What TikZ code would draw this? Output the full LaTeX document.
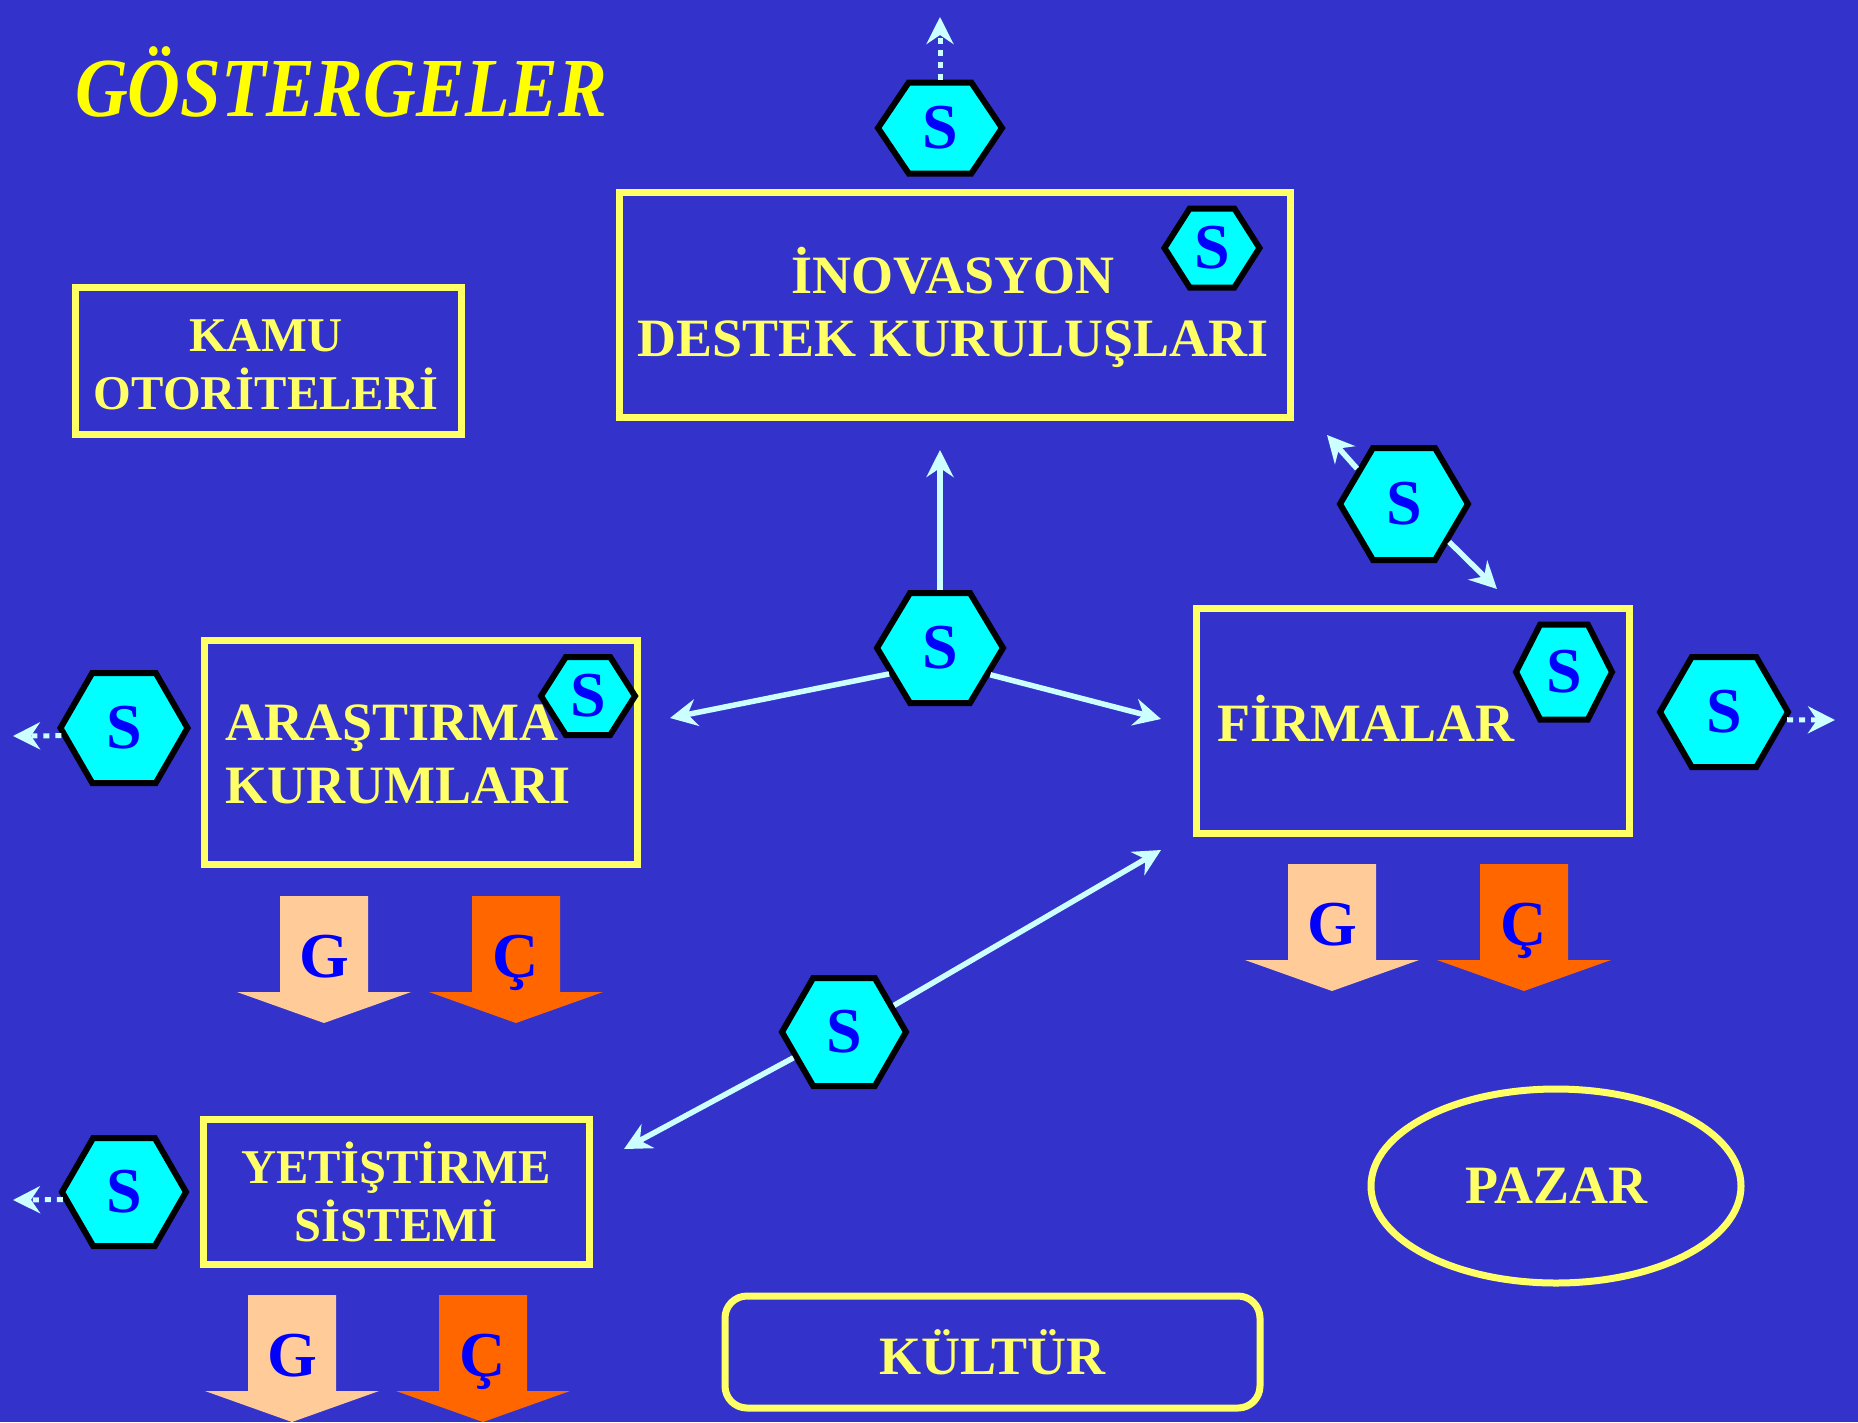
\documentclass[tikz,border=0pt]{standalone}
\usepackage{fontspec}
\usepackage{graphicx}
\setmainfont{Liberation Serif}
\usetikzlibrary{shapes.symbols,shapes.geometric,arrows.meta}
\definecolor{bgc}{HTML}{3333CC}
\definecolor{boxy}{HTML}{FFFF66}
\definecolor{titley}{HTML}{FFFF00}
\definecolor{hexc}{HTML}{00FFFF}
\definecolor{sblue}{HTML}{0000FF}
\definecolor{connc}{HTML}{CCFFFF}
\definecolor{peach}{HTML}{FFCC99}
\definecolor{orng}{HTML}{FF6600}
\newcommand\blockarrow[5]{%
  \fill[#4] (#2-44,#3) -- (#2+44,#3) -- (#2+44,#3+96) -- (#2+87,#3+96) -- (#2,#3+127) -- (#2-87,#3+96) -- (#2-44,#3+96) -- cycle;
  \node[gc, anchor=base] (#1) at (#2,#3+81) {#5};}
\begin{document}
\begin{tikzpicture}[x=1pt,y=-1pt,
  boxn/.style={draw=boxy, line width=7pt, rectangle, inner sep=0pt},
  lbl/.style={text=boxy, font=\bfseries\fontsize{54}{63}\selectfont, inner sep=0pt},
  smalllbl/.style={text=boxy, font=\bfseries\fontsize{48.5}{58}\selectfont, inner sep=0pt},
  hexs/.style={shape=signal, signal to=east and west, draw=black, line width=6pt, fill=hexc, text=sblue, font=\bfseries\fontsize{64}{64}\selectfont, inner sep=0pt},
  gc/.style={text=sblue, font=\bfseries\fontsize{64}{64}\selectfont, inner sep=0pt},
  conn/.style={draw=connc, line width=5.5pt, -{Stealth[length=27pt,width=27pt,inset=9pt]}},
  dotconn/.style={conn, line width=5pt, dash pattern=on 6pt off 6pt}]
\useasboundingbox (0,0) rectangle (1858,1422);
\fill[bgc] (0,0) rectangle (1858,1422);

% title
\node[anchor=base west, text=titley, inner sep=0pt, font=\bfseries\itshape\fontsize{84}{84}\selectfont] (title) at (75,116) {\scalebox{0.87}[1]{GÖSTERGELER}};

% boxes
\node[boxn, minimum width=386, minimum height=147] (kamu) at (268,360.5) {};
\node[boxn, minimum width=671, minimum height=225] (inov) at (954.5,304.5) {};
\node[boxn, minimum width=433, minimum height=224] (ara) at (420.5,752) {};
\node[boxn, minimum width=433, minimum height=225] (firm) at (1412.5,720.5) {};
\node[boxn, minimum width=386, minimum height=145] (yet) at (396,1191.5) {};
\node[boxn, rounded corners=22pt, minimum width=535, minimum height=112, text=boxy, font=\bfseries\fontsize{54}{63}\selectfont] (kultur) at (992.5,1352) {KÜLTÜR};
\node[draw=boxy, line width=7pt, ellipse, inner sep=0pt, minimum width=370, minimum height=194, text=boxy, font=\bfseries\fontsize{54}{63}\selectfont] (pazar) at (1556,1186) {PAZAR};

% labels (base anchor = baseline of last line)
\node[smalllbl, anchor=base, align=center] (kamuT) at (266,409) {KAMU\\OTORİTELERİ};
\node[lbl, anchor=base, align=center] (inovT) at (953,356) {İNOVASYON\\DESTEK KURULUŞLARI};
\node[lbl, anchor=base west, align=left] (araT) at (225,803) {ARAŞTIRMA\\KURUMLARI};
\node[lbl, anchor=base west] (firmT) at (1217,741) {FİRMALAR};
\node[smalllbl, anchor=base, align=center] (yetT) at (396,1241) {YETİŞTİRME\\SİSTEMİ};

% block arrows
\blockarrow{araG}{324}{896}{peach}{G}
\blockarrow{araC}{516}{896}{orng}{Ç}
\blockarrow{firmG}{1332}{864}{peach}{G}
\blockarrow{firmC}{1524}{864}{orng}{Ç}
\blockarrow{yetG}{292}{1295}{peach}{G}
\blockarrow{yetC}{483}{1295}{orng}{Ç}

% hexagons
\node[hexs, minimum width=124, minimum height=91, signal pointer angle=112] (htop) at (940,128) {S};
\node[hexs, minimum width=95, minimum height=79, signal pointer angle=115] (hinov) at (1212,248) {S};
\node[hexs, minimum width=128, minimum height=112, signal pointer angle=119] (hdiag) at (1404,504) {S};
\node[hexs, minimum width=126, minimum height=110, signal pointer angle=118] (hcen) at (940,648) {S};
\node[hexs, minimum width=127, minimum height=110, signal pointer angle=120] (hleft1) at (124,728) {S};
\node[hexs, minimum width=94, minimum height=78, signal pointer angle=115] (hara) at (588,696) {S};
\node[hexs, minimum width=96, minimum height=95, signal pointer angle=126] (hfirm) at (1564,672) {S};
\node[hexs, minimum width=128, minimum height=110, signal pointer angle=120] (hright) at (1724,712) {S};
\node[hexs, minimum width=124, minimum height=108, signal pointer angle=120] (hlow) at (844,1032) {S};
\node[hexs, minimum width=124, minimum height=108, signal pointer angle=120] (hleft2) at (124,1192) {S};

% free ends
\coordinate (cUp) at (940,450);
\coordinate (cL) at (670,718);
\coordinate (cR) at (1161,719);
\coordinate (dUL) at (1327,435);
\coordinate (dDR) at (1497,589);
\coordinate (lUR) at (1161,850);
\coordinate (lDL) at (624,1149);
\coordinate (tTop) at (940,17);
\coordinate (l1End) at (13,736);
\coordinate (rEnd) at (1835,720);
\coordinate (l2End) at (13,1200);

% connectors
\draw[conn] (hcen.north) -- (cUp);
\draw[conn] (hcen.207) -- (cL);
\draw[conn] (hcen.332) -- (cR);
\draw[conn] (hdiag.143) -- (dUL);
\draw[conn] (hdiag.320) -- (dDR);
\draw[conn] (hlow.28) -- (lUR);
\draw[conn] (hlow.207) -- (lDL);
\draw[dotconn] (htop.north) -- (tTop);
\draw[dotconn] (hleft1.187) -- (l1End);
\draw[dotconn] (hright.353) -- (rEnd);
\draw[dotconn] (hleft2.187) -- (l2End);
\end{tikzpicture}
\end{document}
